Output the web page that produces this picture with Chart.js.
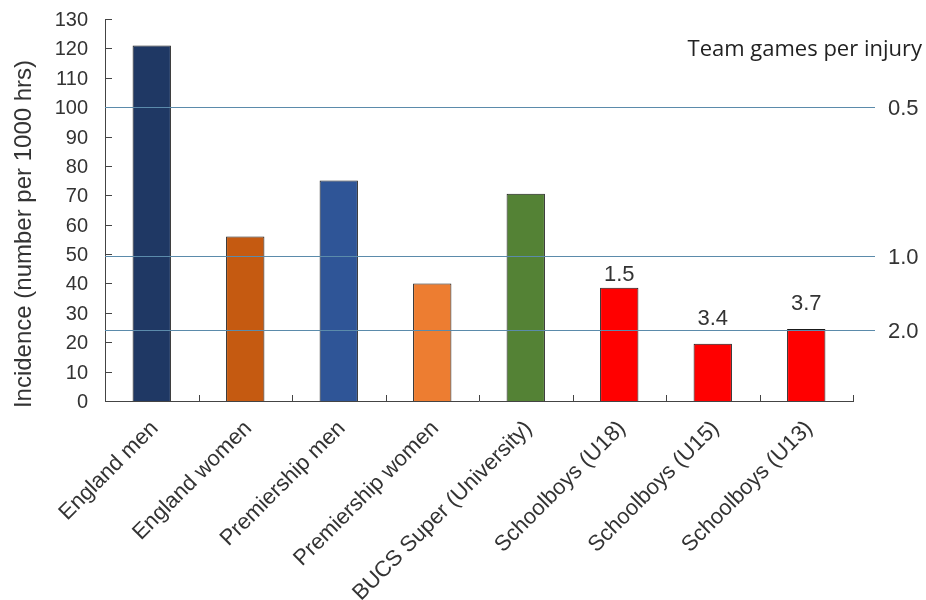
<!DOCTYPE html>
<html>
<head>
<meta charset="utf-8">
<script src="https://cdn.jsdelivr.net/npm/chart.js@4/dist/chart.umd.min.js"></script>
<style>
  html, body { margin: 0; padding: 0; background: #fff; }
  #wrap { width: 926px; height: 600px; position: relative; }
</style>
</head>
<body>
<div id="wrap"><canvas id="chart"></canvas></div>
<script>
// Injury incidence by level of play
const categories = ['England men', 'England women', 'Premiership men', 'Premiership women',
  'BUCS Super (University)', 'Schoolboys (U18)', 'Schoolboys (U15)', 'Schoolboys (U13)'];
const incidence = [121, 56, 75, 40, 70.5, 38.5, 19.5, 24.5];
const barColors = ['#1f3864', '#c55a11', '#2f5597', '#ed7d31', '#548235', '#ff0000', '#ff0000', '#ff0000'];
const gamesLabels = ['', '', '', '', '', '1.5', '3.4', '3.7'];

// reference lines (incidence value) and their "team games per injury" labels
const refValues = [100, 49.5, 24];
const refLabels = ['0.5', '1.0', '2.0'];

const FONT = "'Liberation Sans', Arial, sans-serif";
const TEXT = '#333333';
const LINE = '#5b8bab';

const overlay = {
  id: 'overlay',
  afterDatasetsDraw(chart) {
    const { ctx, chartArea: a, scales: { x, y } } = chart;
    ctx.save();

    // inward tick marks + y tick labels
    ctx.strokeStyle = '#444';
    ctx.lineWidth = 1;
    ctx.font = '20px ' + FONT;
    ctx.fillStyle = TEXT;
    ctx.textAlign = 'right';
    ctx.textBaseline = 'middle';
    ctx.beginPath();
    y.ticks.forEach(t => {
      const py = Math.round(y.getPixelForValue(t.value)) + 0.5;
      ctx.fillText(t.label, a.left - 17, py + 1);
      if (t.value === 0) return;
      ctx.moveTo(a.left, py);
      ctx.lineTo(a.left + 7, py);
    });
    const step = (a.right - a.left) / categories.length;
    for (let i = 1; i <= categories.length; i++) {
      const px = Math.round(a.left + step * i) + 0.5;
      ctx.moveTo(px, a.bottom);
      ctx.lineTo(px, a.bottom - 6);
    }
    ctx.stroke();

    // reference lines + right labels
    ctx.strokeStyle = LINE;
    ctx.font = '22px ' + FONT;
    ctx.textAlign = 'left';
    refValues.forEach((v, i) => {
      const py = Math.round(y.getPixelForValue(v)) + 0.5;
      ctx.beginPath();
      ctx.moveTo(a.left, py);
      ctx.lineTo(a.right + 22, py);
      ctx.stroke();
      ctx.fillText(refLabels[i], a.right + 35, py + 1);
    });

    // games per injury labels above the schoolboy bars
    const meta = chart.getDatasetMeta(0);
    ctx.textAlign = 'center';
    ctx.textBaseline = 'bottom';
    gamesLabels.forEach((t, i) => {
      if (!t) return;
      const bar = meta.data[i];
      const near = refValues.some(v => {
        const ly = y.getPixelForValue(v);
        return ly > bar.y - 25 && ly < bar.y + 5;
      });
      ctx.fillText(t, bar.x, bar.y - (near ? 14 : 2));
    });

    // rotated category labels
    ctx.font = '22px ' + FONT;
    ctx.textAlign = 'right';
    ctx.textBaseline = 'middle';
    categories.forEach((c, i) => {
      const px = x.getPixelForValue(i);
      ctx.save();
      ctx.translate(px + 3, a.bottom + 24);
      ctx.rotate(-Math.PI / 4);
      ctx.fillText(c, 0, 0);
      ctx.restore();
    });

    // header on the right
    ctx.font = "22px 'Open Sans', 'Noto Sans', sans-serif";
    ctx.fillStyle = '#222';
    ctx.textAlign = 'right';
    ctx.fillText('Team games per injury', 922, 50);

    // y axis title
    ctx.font = '24px ' + FONT;
    ctx.fillStyle = TEXT;
    ctx.translate(24, 234);
    ctx.rotate(-Math.PI / 2);
    ctx.textAlign = 'center';
    ctx.fillText('Incidence (number per 1000 hrs)', 0, 0);
    ctx.restore();
  }
};

new Chart(document.getElementById('chart'), {
  type: 'bar',
  data: {
    labels: categories,
    datasets: [{
      data: incidence,
      backgroundColor: barColors,
      borderColor: '#1a1a1a',
      borderWidth: 1,
      borderSkipped: 'bottom',
      categoryPercentage: 1,
      barPercentage: 0.41,
    }],
  },
  options: {
    responsive: true, maintainAspectRatio: false,
    animation: false,
    layout: { padding: { top: 19, right: 73, bottom: 0, left: 0 } },
    plugins: { legend: { display: false }, tooltip: { enabled: false } },
    scales: {
      x: {
        grid: { display: false, drawTicks: false },
        border: { color: '#444', width: 1 },
        ticks: { display: false },
        afterFit(s) { s.height = 199; },
      },
      y: {
        min: 0, max: 130,
        grid: { display: false, drawTicks: false },
        border: { color: '#444', width: 1 },
        ticks: { display: false, stepSize: 10 },
        afterFit(s) { s.width = 105; },
      },
    },
  },
  plugins: [overlay],
});
</script>
</body>
</html>
